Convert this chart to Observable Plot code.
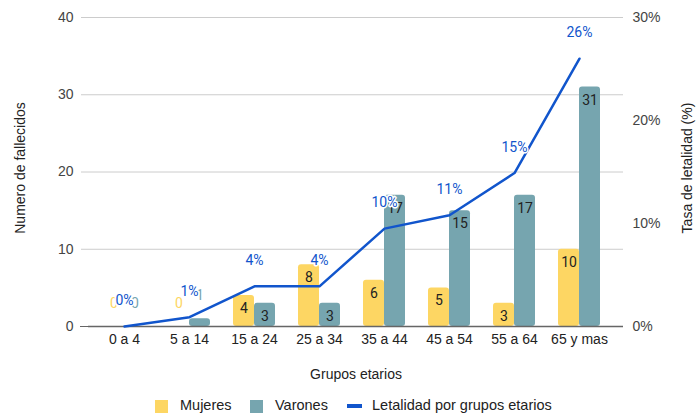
<!DOCTYPE html>
<html>
<head>
<meta charset="utf-8">
<script src="https://cdn.jsdelivr.net/npm/d3@7"></script>
<script src="https://cdn.jsdelivr.net/npm/@observablehq/plot@0.6"></script>
<style>
  html, body { margin: 0; padding: 0; background: #fff; }
  #wrap { position: relative; width: 697px; height: 413px; overflow: hidden; }
  .legend { position: absolute; top: 398px; left: 0; width: 697px; height: 15px; font-family: "Liberation Sans", Arial, sans-serif; font-size: 14.5px; color: #222; }
  .legend span { position: absolute; top: 0; line-height: 15px; white-space: nowrap; }
  .sw { width: 13px; height: 13px; top: 2px !important; }
  .ln { width: 15px; height: 4px; top: 6px !important; }
</style>
</head>
<body>
<div id="wrap"></div>
<script>
const categories = ["0 a 4", "5 a 14", "15 a 24", "25 a 34", "35 a 44", "45 a 54", "55 a 64", "65 y mas"];
const mujeres = [0, 0, 4, 8, 6, 5, 3, 10];
const varones = [0, 1, 3, 3, 17, 15, 17, 31];
const letalidad = [0, 0.9, 3.9, 3.9, 9.5, 10.8, 14.9, 26];
const leftTicks = [0, 10, 20, 30, 40];
const rightTicks = [0, 10, 20, 30];

const colMuj = "#fdd663";
const colVar = "#76a5af";
const colLet = "#1155cc";

const data = categories.map((c, i) => ({cat: c, muj: mujeres[i], var: varones[i], let: letalidad[i]}));
const y2 = d3.scaleLinear([0, 30], [0, 40]);

const H = 396;
const font = "'Liberation Sans', Arial, sans-serif";
const labelFont = "Roboto, 'Liberation Sans', sans-serif";

const chart = Plot.plot({
  width: 697,
  height: H,
  marginTop: 17,
  marginBottom: H - 326,
  marginLeft: 88,
  marginRight: 74,
  style: {fontFamily: font, fontSize: "14px", color: "#444", background: "#fff"},
  x: {type: "band", domain: categories, paddingInner: 0.354, paddingOuter: 0, insetLeft: 15, insetRight: 23},
  y: {domain: [0, 40]},
  marks: [
    Plot.gridY(leftTicks.filter(d => d > 0), {stroke: "#cccccc", strokeOpacity: 1}),
    Plot.axisY(leftTicks.filter(d => d > 0), {tickSize: 7, tickPadding: 8, stroke: "#cccccc", label: null, fill: "#444", fontSize: 14}),
    Plot.axisY([0], {tickSize: 8, tickPadding: 7, stroke: "#666", label: null, fill: "#444", fontSize: 14}),
    Plot.axisY(rightTicks, {anchor: "right", y: y2, tickFormat: d => d + "%", tickSize: 0, tickPadding: 9, label: null, fill: "#444", fontSize: 14}),
    Plot.axisX({tickSize: 0, tickPadding: 8, label: null, fill: "#222", fontSize: 14}),
    Plot.barY(data, {x: "cat", y: "muj", fill: colMuj, insetRight: 21, rx: 3}),
    Plot.barY(data, {x: "cat", y: "var", fill: colVar, insetLeft: 21, rx: 3}),
    Plot.ruleY([0], {stroke: "#666", strokeWidth: 1.5}),
    // bar labels inside
    Plot.text(data.filter(d => d.muj >= 2), {x: "cat", y: "muj", text: d => String(d.muj), dx: -10.5, dy: 13, fill: "#222", fontSize: 14, fontFamily: labelFont}),
    Plot.text(data.filter(d => d.var >= 2), {x: "cat", y: "var", text: d => String(d.var), dx: 10.5, dy: 13, fill: "#222", fontSize: 14, fontFamily: labelFont}),
    // bar labels outside
    Plot.text(data.filter(d => d.muj < 2), {x: "cat", y: "muj", text: d => String(d.muj), dx: -10.5, dy: -23, fill: colMuj, fontSize: 14, fontFamily: labelFont}),
    Plot.text(data.filter(d => d.var < 2), {x: "cat", y: "var", text: d => String(d.var), dx: 10.5, dy: -23, fill: colVar, fontSize: 14, fontFamily: labelFont}),
    // line
    Plot.line(data, {x: "cat", y: d => y2(d.let), stroke: colLet, strokeWidth: 2.5}),
    Plot.text(data, {x: "cat", y: d => y2(d.let), text: d => Math.round(d.let) + "%", dy: -26, fill: colLet, fontSize: 14, fontFamily: labelFont, stroke: "white", strokeWidth: 3, paintOrder: "stroke"}),
    // axis titles
    Plot.text(["Numero de fallecidos"], {frameAnchor: "left", textAnchor: "middle", rotate: -90, dx: -68, dy: -4, fill: "#222", fontSize: 14}),
    Plot.text(["Tasa de letalidad (%)"], {frameAnchor: "right", textAnchor: "middle", rotate: -90, dx: 64, dy: -4, fill: "#222", fontSize: 14}),
    Plot.text(["Grupos etarios"], {frameAnchor: "bottom", dy: 52, fill: "#222", fontSize: 14})
  ]
});

const wrap = document.getElementById("wrap");
wrap.appendChild(chart);
const legend = document.createElement("div");
legend.className = "legend";
legend.innerHTML =
  `<span class="sw" style="left:155px;background:${colMuj}"></span><span style="left:180px">Mujeres</span>` +
  `<span class="sw" style="left:250px;background:${colVar}"></span><span style="left:275px">Varones</span>` +
  `<span class="ln" style="left:347px;background:${colLet}"></span><span style="left:372px">Letalidad por grupos etarios</span>`;
wrap.appendChild(legend);
</script>
</body>
</html>
